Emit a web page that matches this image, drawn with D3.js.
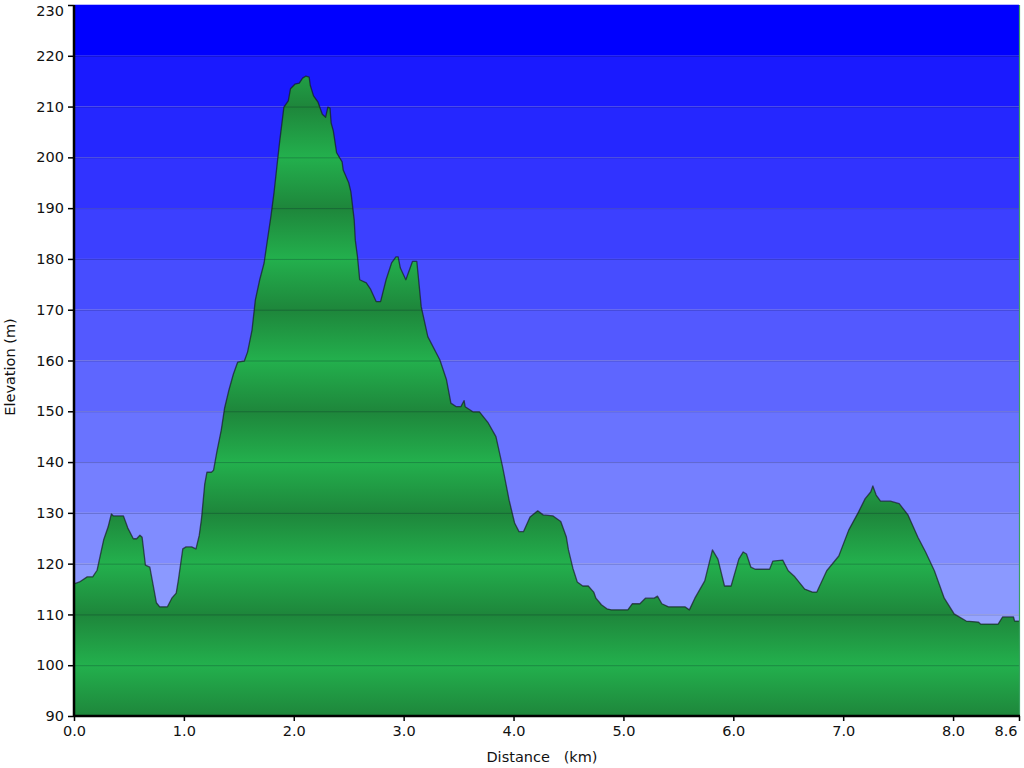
<!DOCTYPE html>
<html>
<head>
<meta charset="utf-8">
<script src="https://cdn.jsdelivr.net/npm/d3@7"></script>
<style>
  html, body { margin: 0; padding: 0; background: #ffffff; }
  svg { display: block; }
  text { font-family: "DejaVu Sans", Verdana, sans-serif; }
</style>
</head>
<body>
<svg id="chart" width="1024" height="768"></svg>
<script>
// ---- data ----
const distanceKm = [
  0.00,0.05,0.12,0.17,0.21,0.24,0.27,0.31,0.34,0.36,0.45,0.49,0.54,0.57,0.60,0.62,0.65,0.69,0.72,0.75,
  0.78,0.85,0.89,0.93,0.95,0.99,1.02,1.07,1.11,1.14,1.16,1.19,1.21,1.25,1.27,1.30,1.34,1.37,1.41,1.45,
  1.49,1.55,1.58,1.62,1.65,1.69,1.73,1.76,1.79,1.82,1.85,1.87,1.91,1.95,1.97,2.01,2.05,2.08,2.11,2.14,
  2.15,2.18,2.22,2.26,2.29,2.31,2.33,2.34,2.36,2.39,2.44,2.45,2.50,2.52,2.55,2.56,2.58,2.60,2.66,2.70,
  2.75,2.79,2.84,2.89,2.93,2.95,2.97,3.02,3.08,3.12,3.16,3.22,3.33,3.39,3.43,3.48,3.52,3.55,3.56,3.63,
  3.69,3.77,3.84,3.90,3.96,4.01,4.05,4.09,4.15,4.22,4.27,4.36,4.43,4.48,4.50,4.54,4.58,4.63,4.68,4.73,
  4.75,4.80,4.85,4.89,5.04,5.08,5.15,5.20,5.28,5.31,5.35,5.41,5.56,5.60,5.65,5.74,5.81,5.86,5.92,5.98,
  6.05,6.09,6.12,6.16,6.20,6.33,6.36,6.45,6.50,6.56,6.65,6.72,6.76,6.85,6.96,7.05,7.14,7.20,7.25,7.27,
  7.30,7.34,7.43,7.51,7.59,7.68,7.75,7.83,7.92,8.01,8.12,8.23,8.25,8.41,8.45,8.55,8.56,8.60
];
const elevationM = [
  116.0,116.4,117.4,117.4,118.7,121.7,124.7,127.2,129.8,129.4,129.4,127.0,124.9,124.9,125.6,125.2,119.7,119.3,115.8,112.3,
  111.5,111.5,113.2,114.2,116.8,122.9,123.3,123.3,122.9,125.6,128.8,135.7,138.0,138.0,138.4,142.0,146.3,150.6,154.2,157.3,
  159.7,159.9,161.7,166.0,171.9,175.9,179.2,183.7,188.1,193.0,198.9,202.8,209.9,211.1,213.5,214.4,214.6,215.6,216.0,215.8,
  214.2,212.1,210.9,208.5,207.9,209.9,209.7,206.8,205.2,200.9,199.1,197.5,195.0,193.2,187.7,183.7,180.4,175.9,175.3,174.0,
  171.6,171.6,175.9,179.2,180.4,180.4,178.2,175.9,179.5,179.5,170.6,164.7,160.1,156.2,151.6,150.9,150.9,152.1,150.9,149.9,
  149.9,147.7,145.0,139.1,132.5,128.0,126.3,126.3,129.2,130.4,129.6,129.4,128.3,125.3,122.7,119.1,116.4,115.6,115.6,114.4,
  113.2,111.9,111.1,110.9,110.9,112.1,112.1,113.2,113.2,113.6,112.1,111.5,111.5,110.9,113.2,116.6,122.7,120.9,115.6,115.6,
  120.9,122.3,121.9,119.3,118.9,118.9,120.5,120.7,118.6,117.4,115.0,114.4,114.4,118.6,121.5,126.6,130.2,132.8,134.1,135.3,
  133.5,132.3,132.3,131.8,129.6,125.2,122.3,118.6,113.2,110.1,108.7,108.5,108.1,108.1,109.5,109.5,108.7,108.7
];
const yTicks = [90,100,110,120,130,140,150,160,170,180,190,200,210,220,230];
const xTicks = [0,1,2,3,4,5,6,7,8,8.6];
const xTitle = "Distance   (km)";
const yTitle = "Elevation (m)";

(function () {
// ---- layout ----
const svg = d3.select("#chart");
const pLeft = 74, pRight = 1019, pTop = 5, pBottom = 716;
const x = d3.scaleLinear().domain([0, 8.6]).range([pLeft, pRight]);
const y = d3.scaleLinear().domain([90, 230]).range([pBottom, pTop]);
const defs = svg.append("defs");
const fontSize = "14.5px";

// background bands (blue)
const bandBlue = d3.interpolateRgb("#a2b2ff", "#1a1aff");
const bands = d3.range(yTicks.length - 1).map(i => [yTicks[i], yTicks[i + 1], i]);
svg.append("g").selectAll("rect").data(bands).join("rect")
  .attr("x", pLeft).attr("width", pRight - pLeft)
  .attr("y", d => y(d[1])).attr("height", d => y(d[0]) - y(d[1]))
  .attr("fill", d => d[2] === bands.length - 1 ? "#0000ff" : bandBlue(d[2] / (bands.length - 2)));

// green banded gradient
const grad = defs.append("linearGradient").attr("id", "greenBands")
  .attr("gradientUnits", "userSpaceOnUse")
  .attr("x1", 0).attr("x2", 0).attr("y1", y(90)).attr("y2", y(230));
yTicks.forEach((v, i) => {
  grad.append("stop")
    .attr("offset", (v - 90) / 140)
    .attr("stop-color", i % 2 === 0 ? "#1e863b" : "#23b04d");
});

const pts = distanceKm.map((d, i) => [d, elevationM[i]]);
const area = d3.area().x(d => x(d[0])).y0(y(90)).y1(d => y(d[1]));
const line = d3.line().x(d => x(d[0])).y(d => y(d[1]));

svg.append("path").datum(pts).attr("d", area).attr("fill", "url(#greenBands)");

// grid lines
svg.append("g").selectAll("line").data(yTicks.slice(1, -1)).join("line")
  .attr("x1", pLeft).attr("x2", pRight)
  .attr("y1", d => y(d) + 0.5).attr("y2", d => y(d) + 0.5)
  .attr("stroke", "rgba(0,0,30,0.22)").attr("stroke-width", 1);

// outline
svg.append("path").datum(pts).attr("d", line)
  .attr("fill", "none").attr("stroke", "rgba(20,20,30,0.65)").attr("stroke-width", 1.3)
  .attr("stroke-linejoin", "round");

// right edge line
svg.append("line").attr("x1", pRight + 0.5).attr("x2", pRight + 0.5)
  .attr("y1", pTop).attr("y2", pBottom)
  .attr("stroke", "#3aa060").attr("stroke-width", 1.2);

// top border
svg.append("line").attr("x1", pLeft).attr("x2", pRight)
  .attr("y1", pTop - 0.5).attr("y2", pTop - 0.5)
  .attr("stroke", "#b8b8ff").attr("stroke-width", 1);

// axes
const yAxis = d3.axisLeft(y).tickValues(yTicks).tickFormat(d3.format("d")).tickSize(6).tickPadding(4);
const gy = svg.append("g").attr("transform", `translate(${pLeft},0)`).call(yAxis);
const xAxis = d3.axisBottom(x).tickValues(xTicks).tickFormat(d3.format(".1f")).tickSize(5).tickPadding(5);
const gx = svg.append("g").attr("transform", `translate(0,${pBottom})`).call(xAxis);
[gx, gy].forEach(g => {
  g.select(".domain").attr("stroke", "#000").attr("stroke-width", 2.5);
  g.selectAll(".tick line").attr("stroke", "#000").attr("stroke-width", 1.5);
  g.selectAll(".tick text").attr("fill", "#111").style("font-size", fontSize)
    .style("font-family", "'DejaVu Sans', Verdana, sans-serif");
});
gy.select(".domain").attr("d", `M0,${pTop}V${pBottom}`);
gx.select(".domain").attr("d", `M${pLeft},0H${pRight + 1}`);
// keep edge labels inside the picture
gy.selectAll(".tick").filter(d => d === 230).select("text").attr("dy", "0.72em");
gx.selectAll(".tick").filter(d => d === 8.6).select("text").attr("text-anchor", "end").attr("dx", -2);

// titles
svg.append("text").attr("x", 542).attr("y", 762).attr("text-anchor", "middle")
  .attr("xml:space", "preserve").style("white-space", "pre")
  .style("font-size", fontSize).attr("fill", "#111").text(xTitle);
svg.append("text").attr("transform", "translate(15,367) rotate(-90)")
  .attr("text-anchor", "middle").style("font-size", fontSize).attr("fill", "#111").text(yTitle);
})();
</script>
</body>
</html>
